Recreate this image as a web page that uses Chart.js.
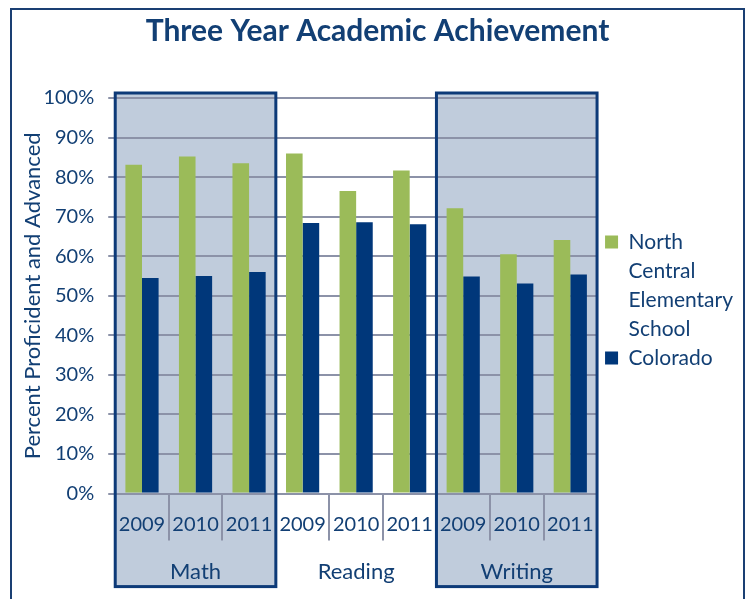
<!DOCTYPE html>
<html><head><meta charset="utf-8">
<script src="https://cdn.jsdelivr.net/npm/chart.js@4"></script>
<style>
html,body{margin:0;padding:0;background:#fff;}
#wrap{position:relative;width:747px;height:599px;overflow:hidden;}
#frame{position:absolute;left:10px;top:8px;width:735px;height:640px;border:2px solid #1a3f73;box-sizing:border-box;}
canvas{position:absolute;left:0;top:0;}
</style></head><body>
<div id="wrap"><div id="frame"></div><canvas id="c" width="747" height="599"></canvas></div>
<script>
const years = ['2009','2010','2011','2009','2010','2011','2009','2010','2011'];
const subjects = ['Math','Reading','Writing'];
const shadedSubjects = ['Math','Writing'];
const seriesNames = ['North Central Elementary School','Colorado'];
const legendLines = [['North','Central','Elementary','School'],['Colorado']];
const northCentral = [83.1,85.2,83.5,86.0,76.5,81.7,72.1,60.5,64.1];
const colorado = [54.5,55.0,56.0,68.4,68.6,68.1,54.9,53.1,55.4];
const yMin = 0, yMax = 100, yStep = 10;

const NAVY_TEXT = '#123f74';
const GREEN = '#9bbb59';
const NAVY = '#00377a';
const GRID = '#8c92a8';
const BOX_FILL = '#c0ccdc';
const BOX_EDGE = '#0d3a78';
const FONT = 'Lato, "Open Sans", sans-serif';
const seriesColors = [GREEN, NAVY];

const groupBoxes = {
  id: 'groupBoxes',
  geom(chart, i) {
    const x = chart.scales.x, y = chart.scales.y;
    const half = (x.getPixelForValue(1) - x.getPixelForValue(0)) / 2;
    return {
      l: x.getPixelForValue(i * 3) - half,
      r: x.getPixelForValue(i * 3 + 2) + half,
      t: y.getPixelForValue(yMax) - 5,
      b: chart.chartArea.bottom + 93
    };
  },
  beforeDraw(chart) {
    const ctx = chart.ctx;
    ctx.save();
    subjects.forEach((s, i) => {
      if (!shadedSubjects.includes(s)) return;
      const g = this.geom(chart, i);
      ctx.fillStyle = BOX_FILL;
      ctx.fillRect(g.l, g.t, g.r - g.l, g.b - g.t);
    });
    ctx.restore();
  },
  afterDatasetsDraw(chart) {
    const ctx = chart.ctx, x = chart.scales.x, ca = chart.chartArea;
    const half = (x.getPixelForValue(1) - x.getPixelForValue(0)) / 2;
    ctx.save();
    ctx.strokeStyle = GRID;
    ctx.lineWidth = 2;
    for (let k = 1; k < years.length; k++) {
      const px = Math.round(x.getPixelForValue(k) - half);
      ctx.beginPath();
      ctx.moveTo(px, ca.bottom);
      ctx.lineTo(px, ca.bottom + 47);
      ctx.stroke();
    }
    subjects.forEach((s, i) => {
      if (!shadedSubjects.includes(s)) return;
      const g = this.geom(chart, i);
      ctx.strokeStyle = BOX_EDGE;
      ctx.lineWidth = 3;
      ctx.strokeRect(g.l, g.t, g.r - g.l, g.b - g.t);
    });
    ctx.restore();
  }
};

function legendItems() {
  const items = [];
  legendLines.forEach((lines, i) => {
    lines.forEach((t, j) => {
      items.push({
        text: t,
        fillStyle: j === 0 ? seriesColors[i] : 'rgba(0,0,0,0)',
        strokeStyle: 'rgba(0,0,0,0)',
        lineWidth: 0,
        fontColor: NAVY_TEXT,
        hidden: false,
        datasetIndex: i
      });
    });
  });
  return items;
}

new Chart(document.getElementById('c'), {
  type: 'bar',
  data: {
    labels: years,
    datasets: [
      { label: seriesNames[0], data: northCentral, backgroundColor: GREEN, xAxisID: 'x' },
      { label: seriesNames[1], data: colorado, backgroundColor: NAVY, xAxisID: 'x' }
    ]
  },
  options: {
    responsive: false,
    animation: false,
    devicePixelRatio: 1,
    categoryPercentage: 0.62,
    barPercentage: 1.0,
    layout: { padding: { left: 12, right: 4, top: 0, bottom: 11 } },
    plugins: {
      legend: {
        display: true,
        position: 'right',
        fullSize: false,
        align: 'center',
        title: { display: true, text: '', font: { size: 7 }, padding: 0 },
        labels: {
          generateLabels: legendItems,
          boxWidth: 13, boxHeight: 13, padding: 8,
          color: NAVY_TEXT,
          font: { family: FONT, size: 21 }
        },
        onClick: null
      },
      tooltip: { enabled: false },
      title: {
        display: true,
        text: 'Three Year Academic Achievement',
        color: NAVY_TEXT,
        font: { family: FONT, size: 30, weight: 'bold' },
        padding: { top: 13, bottom: 49 }
      }
    },
    scales: {
      x: {
        type: 'category',
        labels: years,
        position: 'bottom',
        offset: true,
        grid: { display: false, drawTicks: false },
        border: { display: false },
        ticks: { color: NAVY_TEXT, font: { family: FONT, size: 20 }, padding: 19, maxRotation: 0, autoSkip: false }
      },
      x2: {
        type: 'category',
        labels: subjects,
        position: 'bottom',
        offset: true,
        grid: { display: false, drawTicks: false },
        border: { display: false },
        ticks: { color: NAVY_TEXT, font: { family: FONT, size: 22 }, padding: 3, maxRotation: 0, autoSkip: false }
      },
      y: {
        min: yMin, max: yMax,
        grid: { color: GRID, lineWidth: 2, tickLength: 7, tickColor: GRID },
        border: { color: GRID, width: 2 },
        ticks: { stepSize: yStep, color: NAVY_TEXT, font: { family: FONT, size: 20 }, padding: 14,
                 callback: v => v + '%' },
        title: { display: true, text: 'Percent Proficident and Advanced', color: NAVY_TEXT,
                 font: { family: FONT, size: 22 }, padding: { top: 8, bottom: -17 } }
      }
    }
  },
  plugins: [groupBoxes]
});
</script>
</body></html>
